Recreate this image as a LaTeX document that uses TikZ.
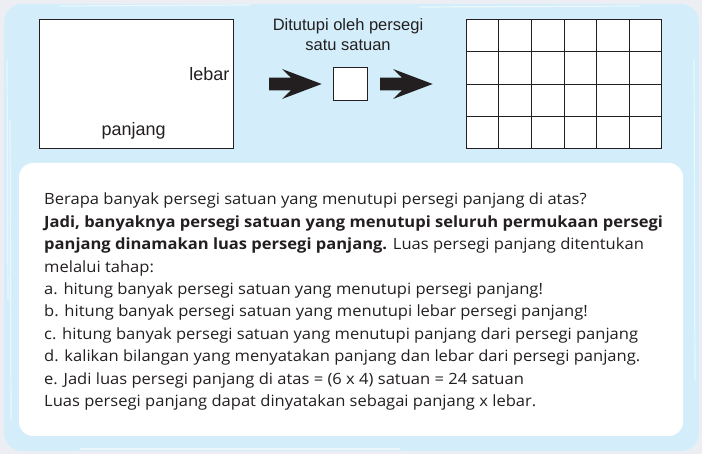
\documentclass[tikz,border=0pt]{standalone}
\usepackage{fontspec}
\usetikzlibrary{calc}
\setmainfont{Open Sans}[FakeStretch=1.067]
\newfontfamily\arialf{Liberation Sans}
\definecolor{outerbg}{HTML}{ECEEF3}
\definecolor{bluebg}{HTML}{D3EEFA}
\definecolor{ink}{HTML}{231F20}
\begin{document}
\begin{tikzpicture}[x=1pt,y=-1pt,
  boxline/.style={draw=ink, line width=1.1pt, fill=white, inner sep=0pt},
  toplabel/.style={font=\arialf\fontsize{16.5}{20}\selectfont, text=ink, inner sep=0pt},
  sidelabel/.style={font=\arialf\fontsize{18}{20}\selectfont, text=ink, inner sep=0pt},
  bodyline/.style={font=\fontsize{15.5}{20}\selectfont, text=ink, inner sep=0pt, anchor=base west},
  blockarrow/.style={fill=ink},
  streak/.style={white, opacity=0.55, line width=1.2pt, line cap=round}]
\useasboundingbox (0,0) rectangle (702,454);
\fill[outerbg] (0,0) rectangle (702,454);
\fill[bluebg, rounded corners=18] (4,4) rectangle (699,451);
% brush streaks
\draw[streak] (60,6) -- (250,5);
\draw[streak] (420,7) -- (640,6);
\draw[streak] (7,60) -- (8,300);
\draw[streak] (10,120) -- (11,420);
\draw[streak] (694,60) -- (695,380);
\draw[streak] (80,449) -- (400,449);
% white text panel
\fill[white, rounded corners=14] (19,163) rectangle (683,436);
% big rectangle
\node[boxline, minimum width=194pt, minimum height=129pt, anchor=north west] (big) at (39.3,19.3) {};
\node[sidelabel, anchor=base east] (lebar) at (229.5,81) {lebar};
\node[sidelabel, anchor=base] (panjang) at (133.7,135.5) {panjang};
% caption
\node[toplabel, anchor=base] (cap1) at (348,30.7) {Ditutupi oleh persegi};
\node[toplabel, anchor=base] (cap2) at (348,51) {satu satuan};
% unit square
\node[boxline, minimum width=33.4pt, minimum height=32.7pt, anchor=north west] (unit) at (333.3,67.3) {};
% arrows
\coordinate (arr1) at (269,84);
\coordinate (arr2) at (380,84);
\foreach \a in {arr1,arr2}{
  \fill[blockarrow] ([shift={(0,-6.3)}]\a) -- ([shift={(22,-6.3)}]\a) -- ([shift={(13,-15)}]\a)
    -- ([shift={(52.7,0)}]\a) -- ([shift={(13,15)}]\a) -- ([shift={(22,6.3)}]\a)
    -- ([shift={(0,6.3)}]\a) -- cycle;
}
% grid
\node[boxline, minimum width=194.4pt, minimum height=129pt, anchor=north west] (grid) at (466.3,19.3) {};
\foreach \i in {1,...,5}{
  \draw[ink, line width=1.1pt] ($(grid.north west)!\i/6!(grid.north east)$) -- ($(grid.south west)!\i/6!(grid.south east)$);
}
\foreach \j in {1,2,3}{
  \draw[ink, line width=1.1pt] ($(grid.north west)!\j/4!(grid.south west)$) -- ($(grid.north east)!\j/4!(grid.south east)$);
}
% body text
\node[bodyline] (l1) at (44,205) {Berapa banyak persegi satuan yang menutupi persegi panjang di atas?};
\node[bodyline] (l2) at (44,227.4) {\bfseries Jadi, banyaknya persegi satuan yang menutupi seluruh permukaan persegi};
\node[bodyline] (l3) at (44,249.8) {\textbf{panjang dinamakan luas persegi panjang.} Luas persegi panjang ditentukan};
\node[bodyline] (l4) at (44,272.2) {melalui tahap:};
\node[bodyline] (l5) at (44,294.6) {a. hitung banyak persegi satuan yang menutupi persegi panjang!};
\node[bodyline] (l6) at (44,317) {b. hitung banyak persegi satuan yang menutupi lebar persegi panjang!};
\node[bodyline] (l7) at (44,339.4) {c. hitung banyak persegi satuan yang menutupi panjang dari persegi panjang};
\node[bodyline] (l8) at (44,361.8) {d. kalikan bilangan yang menyatakan panjang dan lebar dari persegi panjang.};
\node[bodyline] (l9) at (44,384.2) {e. Jadi luas persegi panjang di atas = (6 x 4) satuan = 24 satuan};
\node[bodyline] (l10) at (44,406.6) {Luas persegi panjang dapat dinyatakan sebagai panjang x lebar.};
\end{tikzpicture}
\end{document}
